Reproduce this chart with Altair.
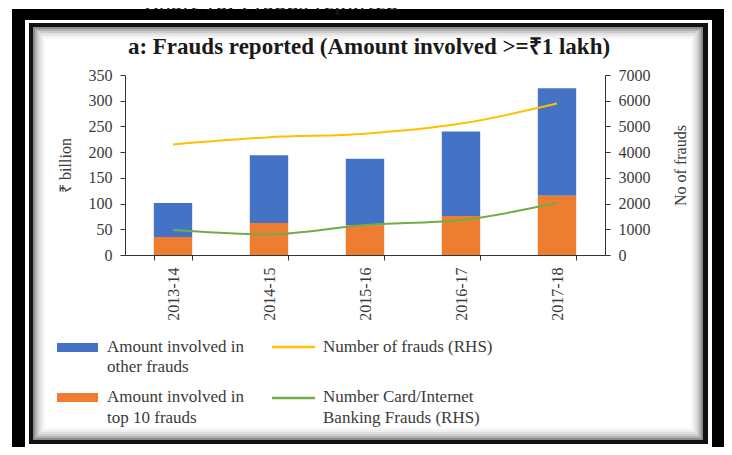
import altair as alt
import pandas as pd

# ---------------- data ----------------
years = ["2013-14", "2014-15", "2015-16", "2016-17", "2017-18"]
top10_amount = [35, 62, 58, 76, 115]          # ₹ billion, bottom (orange) segment
other_amount = [66, 132, 129, 164, 209]       # ₹ billion, top (blue) segment
num_frauds = [4300, 4580, 4720, 5110, 5890]   # RHS
card_internet_frauds = [970, 800, 1165, 1360, 2030]  # RHS

bar_series = ["Amount involved in other frauds", "Amount involved in top 10 frauds"]
line_series = ["Number of frauds (RHS)", "Number Card/Internet Banking Frauds (RHS)"]
bar_colors = ["#4472C4", "#ED7D31"]
line_colors = ["#FFC000", "#70AD47"]

left_ticks = list(range(0, 351, 50))
right_ticks = list(range(0, 7001, 1000))

chart_title = "a: Frauds reported (Amount involved >=₹1 lakh)"
caption = "Chart 1a: Frauds reported"

# ---------------- tables ----------------
bars_df = pd.DataFrame({
    "year": years * 2,
    "series": [bar_series[0]] * len(years) + [bar_series[1]] * len(years),
    "value": other_amount + top10_amount,
    "stack_order": [2] * len(years) + [1] * len(years),
})
lines_df = pd.DataFrame({
    "year": years * 2,
    "series": [line_series[0]] * len(years) + [line_series[1]] * len(years),
    "count": num_frauds + card_internet_frauds,
})
one = pd.DataFrame({"k": [0]})

FONT = "Liberation Serif"
TXT = "#3a3a3a"
W, H = 480, 180

xscale = alt.Scale(domain=years, paddingInner=0.6, paddingOuter=0.3)
xaxis = alt.Axis(title=None, labelAngle=270, labelFont=FONT, labelFontSize=16,
                 labelColor=TXT, labelPadding=7, tickBand="extent", tickSize=5,
                 domainColor="#333", tickColor="#333", zindex=1)

bars = alt.Chart(bars_df).mark_bar().encode(
    x=alt.X("year:N", scale=xscale, axis=xaxis, sort=years),
    y=alt.Y("value:Q", stack="zero",
            scale=alt.Scale(domain=[0, 350], nice=False),
            axis=alt.Axis(title="₹ billion", values=left_ticks, orient="left",
                          labelFont=FONT, labelFontSize=16, labelColor=TXT,
                          titleFont=FONT, titleFontSize=16, titleFontWeight="normal",
                          titleColor=TXT, titlePadding=15, labelPadding=8,
                          tickSize=5, grid=False, domainColor="#333",
                          tickColor="#333", zindex=1)),
    color=alt.Color("series:N", scale=alt.Scale(domain=bar_series, range=bar_colors),
                    legend=None),
    order=alt.Order("stack_order:Q"),
)

lines = alt.Chart(lines_df).mark_line(strokeWidth=2, interpolate="monotone").encode(
    x=alt.X("year:N", scale=xscale, axis=xaxis, sort=years),
    y=alt.Y("count:Q", scale=alt.Scale(domain=[0, 7000], nice=False),
            axis=alt.Axis(title="No of frauds", values=right_ticks, orient="right",
                          format="d",
                          labelFont=FONT, labelFontSize=16, labelColor=TXT,
                          titleFont=FONT, titleFontSize=16, titleFontWeight="normal",
                          titleColor=TXT, titleAngle=270, titlePadding=38,
                          labelPadding=8, tickSize=5, grid=False,
                          domainColor="#333", tickColor="#333", zindex=1)),
    stroke=alt.Stroke("series:N", scale=alt.Scale(domain=line_series, range=line_colors),
                      legend=None),
)


# ---------------- decoration helpers (plot-area pixel coords) ----------------
def box(x1, y1, x2, y2, **kw):
    return alt.Chart(one).mark_rect(**kw).encode(
        x=alt.value(x1), x2=alt.value(x2), y=alt.value(y1), y2=alt.value(y2))


def label(x, y, s, **kw):
    params = dict(font=FONT, fontSize=17, color=TXT, align="left", baseline="middle")
    params.update(kw)
    return alt.Chart(one).mark_text(text=s, **params).encode(
        x=alt.value(x), y=alt.value(y))


def hline(x1, x2, y, color, width):
    return alt.Chart(one).mark_rule(color=color, strokeWidth=width).encode(
        x=alt.value(x1), x2=alt.value(x2), y=alt.value(y))


frame = [
    box(-113, -66, 603, 380, color="black"),
    box(-100, -55, 587, 373, color="white"),
    box(-96, -52, 583, 369, color="#111"),
    box(-92, -48, 578, 365, color="white"),
]
ix1, iy1, ix2, iy2 = -92, -48, 578, 365
for d, op in zip([1, 3, 5, 7, 9, 11], [0.45, 0.30, 0.20, 0.12, 0.07, 0.03]):
    frame.append(box(ix1 + d, iy1 + d, ix2 - d, iy2 - d, fill="black", fillOpacity=0,
                     stroke="black", strokeOpacity=op, strokeWidth=2))

legend = [
    box(-68, 268, -27, 277, color=bar_colors[0]),
    box(-68, 318, -27, 327, color=bar_colors[1]),
    hline(147, 190, 272, line_colors[0], 2.5),
    hline(147, 190, 323, line_colors[1], 2.5),
    label(-18, 272, "Amount involved in"),
    label(-18, 292, "other frauds"),
    label(-18, 322, "Amount involved in"),
    label(-18, 343, "top 10 frauds"),
    label(198, 272, "Number of frauds (RHS)"),
    label(198, 322, "Number Card/Internet"),
    label(198, 343, "Banking Frauds (RHS)"),
]

titles = [
    label(244, -28, chart_title, fontSize=23, fontWeight="bold", color="#1a1a1a",
          align="center"),
    label(145, -73, caption, fontSize=25, color="#1a1a1a", align="center"),
]

chart = alt.layer(
    *frame, bars, lines, *legend, *titles
).resolve_scale(
    y="independent", color="independent"
).properties(
    width=W, height=H,
    padding={"left": 117, "top": 67, "right": 119, "bottom": 192},
    autosize=alt.AutoSizeParams(type="none"),
).configure_view(stroke=None)

chart.save("out.html", embed_options={"renderer": "svg", "actions": False})
